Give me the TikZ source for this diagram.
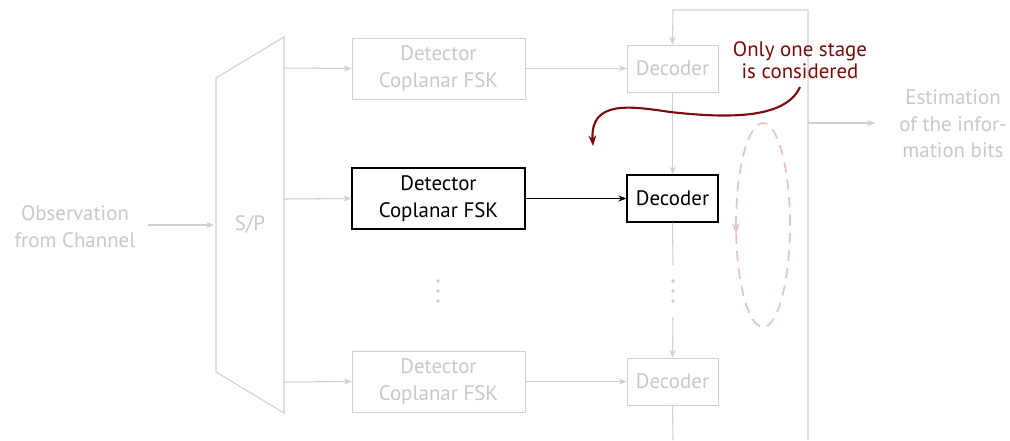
\documentclass[tikz,border=0pt]{standalone}
\usepackage{fontspec}
\setmainfont{PT Sans}
\usetikzlibrary{arrows.meta,decorations.markings}
\definecolor{fade}{HTML}{C8C8C8}
\definecolor{fadeline}{HTML}{D0D0D0}
\definecolor{darkred}{HTML}{7B0A0A}
\definecolor{pinkdash}{HTML}{E2C6C6}
\tikzset{
  txt/.style={font=\fontsize{11.9}{15.2}\selectfont, align=center},
  detbox/.style={draw, txt, minimum width=3.46cm, minimum height=1.22cm, inner sep=0pt},
  decbox/.style={draw, txt, minimum width=1.82cm, minimum height=0.94cm, inner sep=0pt},
  faded/.style={draw=fadeline, text=fade},
  active/.style={draw=black, text=black, line width=0.8pt},
  arr/.style={-{Stealth[length=4.5pt,width=3.5pt]}},
  gline/.style={fadeline, line width=0.6pt},
  dot/.style={circle, fill=fade, inner sep=0pt, minimum size=2.2pt},
}
\begin{document}
\begin{tikzpicture}[x=0.02cm,y=-0.02cm]
\useasboundingbox (0,0) rectangle (1010,440);
% S/P
\coordinate (spA) at (216,78);
\coordinate (spB) at (284,37);
\coordinate (spC) at (284,413);
\coordinate (spD) at (216,372);
\draw[gline] (spA) -- (spB) -- (spC) -- (spD) -- cycle;
\node[txt, text=fade] (sp) at (250,225) {S/P};
\coordinate (spin) at (214,225);
\coordinate (spo1) at (284,68);
\coordinate (spo2) at (284,199);
\coordinate (spo3) at (284,382);
% input
\node[txt, text=fade] (obs) at (75,227) {Observation\\from Channel};
\coordinate (obsR) at (148,225);
\draw[gline, arr] (obsR) -- (spin);
% detectors
\node[detbox, faded] (det1) at (438.5,68.5) {Detector\\Coplanar FSK};
\node[detbox, active] (det2) at (438.5,198.5) {Detector\\Coplanar FSK};
\node[detbox, faded] (det3) at (438.5,381.5) {Detector\\Coplanar FSK};
\node[dot] (d1a) at (438,281) {};
\node[dot] (d1b) at (438,291) {};
\node[dot] (d1c) at (438,301) {};
% decoders
\node[decbox, faded] (dec1) at (672.5,68.5) {Decoder};
\node[decbox, active] (dec2) at (672.5,198.5) {Decoder};
\node[decbox, faded] (dec3) at (672.5,381.5) {Decoder};
\node[dot] (d2a) at (673,281) {};
\node[dot] (d2b) at (673,291) {};
\node[dot] (d2c) at (673,301) {};
% S/P to detectors
\draw[gline, arr] (spo1) -- (det1.west);
\draw[gline, arr] (spo2) -- (det2.west);
\draw[gline, arr] (spo3) -- (det3.west);
% detectors to decoders
\draw[gline, arr] (det1.east) -- (dec1.west);
\draw[black, line width=0.6pt, arr] (det2.east) -- (dec2.west);
\draw[gline, arr] (det3.east) -- (dec3.west);
% chain
\coordinate (fbTL) at (673,10);
\coordinate (fbTR) at (808,10);
\coordinate (fbBR) at (808,440);
\coordinate (fbBL) at (673,440);
\coordinate (chA) at (673,265);
\coordinate (chB) at (673,317);
\coordinate (outL) at (808,123);
\coordinate (outR) at (875,123);
\draw[gline, arr] (fbBR) -- (fbTR) -- (fbTL) -- (dec1.north);
\draw[gline, arr] (dec1.south) -- (dec2.north);
\draw[gline] (dec2.south) -- (chA);
\draw[gline, arr] (chB) -- (dec3.north);
\draw[gline] (dec3.south) -- (fbBL);
\draw[gline, arr] (outL) -- (outR);
\node[txt, text=fade] (est) at (953,124) {Estimation\\of the infor-\\mation bits};
% annotation
\node[txt, font=\fontsize{11.9}{12.6}\selectfont, text=darkred, inner sep=1pt] (note) at (800,60) {Only one stage\\is considered};
\coordinate (tip) at (593,146);
\draw[darkred, line width=1.2pt, -{Stealth[length=6pt,width=4.5pt]}]
  (800,87) .. controls (785,120) and (725,118) .. (670,112)
  .. controls (630,106) and (590,100) .. (tip);
% dashed ellipse
\draw[pinkdash, line width=1pt, dash pattern=on 6pt off 4pt,
  postaction={decorate},
  decoration={markings, mark=at position 0.52 with {\arrow{Stealth[length=6pt,width=4.5pt]}}}]
  (763,225) ellipse [x radius=0.54cm, y radius=2.04cm];
\end{tikzpicture}
\end{document}
